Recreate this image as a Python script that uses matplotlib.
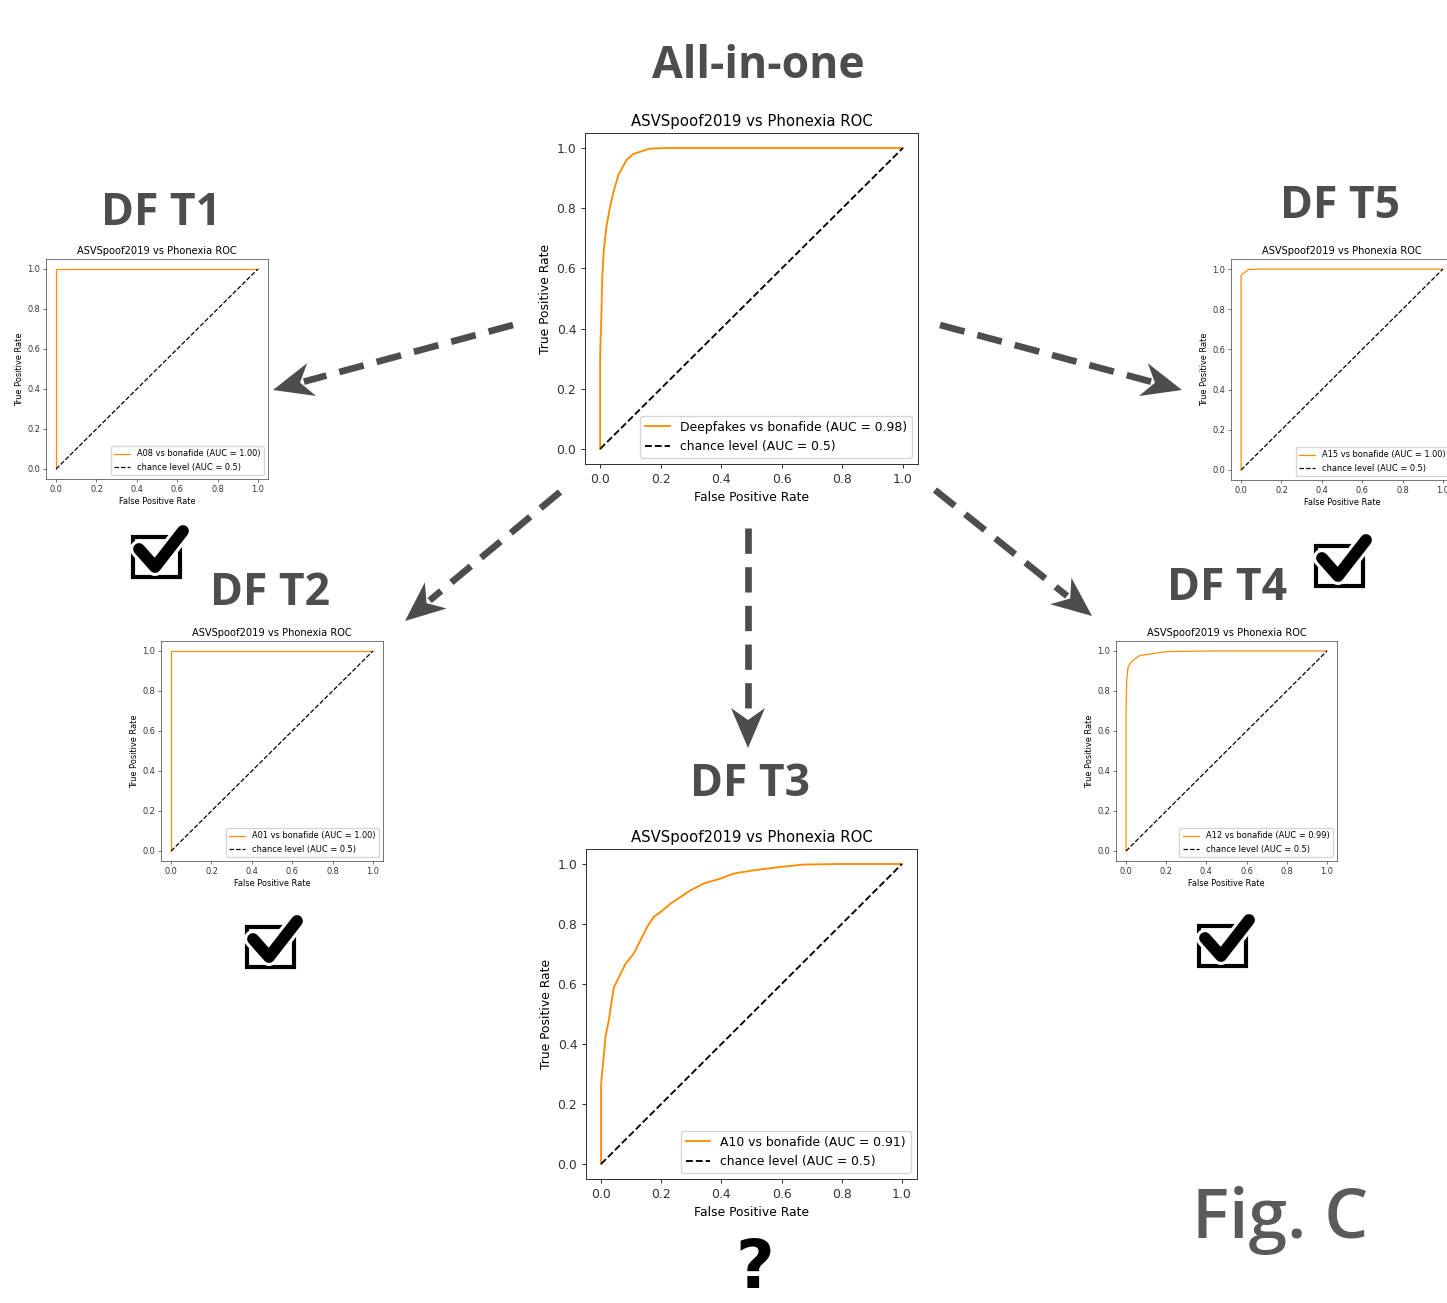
import matplotlib
matplotlib.use("Agg")
import matplotlib.pyplot as plt
from matplotlib.lines import Line2D
from matplotlib.patches import Polygon, Rectangle
import matplotlib.patheffects as pe
import numpy as np

W, H = 1447, 1303

# ROC curves
allin_fpr = [0, 0, 0.004, 0.007, 0.012, 0.021, 0.032, 0.043, 0.06, 0.087, 0.109, 0.164, 0.22, 1.0]
allin_tpr = [0, 0.31, 0.44, 0.57, 0.66, 0.74, 0.80, 0.85, 0.91, 0.96, 0.98, 0.998, 1.0, 1.0]

t1_fpr = [0, 0, 1.0]
t1_tpr = [0, 1.0, 1.0]

t2_fpr = [0, 0, 1.0]
t2_tpr = [0, 1.0, 1.0]

t3_fpr = [0, 0, 0.002, 0.008, 0.015, 0.026, 0.034, 0.043, 0.06, 0.082, 0.109, 0.131, 0.153, 0.175,
          0.198, 0.231, 0.264, 0.297, 0.341, 0.396, 0.44, 0.507, 0.595, 0.672, 0.783, 1.0]
t3_tpr = [0, 0.258, 0.29, 0.347, 0.425, 0.48, 0.535, 0.59, 0.624, 0.668, 0.702, 0.746, 0.79, 0.824,
          0.84, 0.868, 0.89, 0.912, 0.935, 0.951, 0.968, 0.979, 0.99, 0.998, 1.0, 1.0]

t4_fpr = [0, 0, 0.003, 0.01, 0.022, 0.043, 0.068, 0.118, 0.2, 0.4, 1.0]
t4_tpr = [0, 0.72, 0.85, 0.92, 0.94, 0.96, 0.977, 0.985, 0.997, 1.0, 1.0]

t5_fpr = [0, 0, 0.013, 0.038, 0.11, 1.0]
t5_tpr = [0, 0.968, 0.98, 0.998, 1.0, 1.0]

labels = {
    "all": "Deepfakes vs bonafide (AUC = 0.98)",
    "t1": "A08 vs bonafide (AUC = 1.00)",
    "t2": "A01 vs bonafide (AUC = 1.00)",
    "t3": "A10 vs bonafide (AUC = 0.91)",
    "t4": "A12 vs bonafide (AUC = 0.99)",
    "t5": "A15 vs bonafide (AUC = 1.00)",
}

headers = ["All-in-one", "DF T1", "DF T2", "DF T3", "DF T4", "DF T5"]

GREY = "#4d4d4d"
HFONT = "Open Sans"

fig = plt.figure(figsize=(W / 100, H / 100), dpi=100)


def fx(x):
    return x / W


def fy(y):
    return 1 - y / H


def rect(l, t, r, b):
    return [fx(l), fy(b), (r - l) / W, (b - t) / H]


def roc(box, fpr, tpr, label, s):
    ax = fig.add_axes(rect(*box))
    ax.plot(fpr, tpr, color="darkorange", lw=1.5 * s, label=label)
    ax.plot([0, 1], [0, 1], "k--", lw=1.5 * s, label="chance level (AUC = 0.5)")
    ax.set_title("ASVSpoof2019 vs Phonexia ROC", fontsize=12 * s, pad=6 * s)
    ax.set_xlabel("False Positive Rate", fontsize=10 * s, labelpad=4 * s)
    ax.set_ylabel("True Positive Rate", fontsize=10 * s, labelpad=4 * s)
    ax.set_xticks([0, 0.2, 0.4, 0.6, 0.8, 1.0])
    ax.set_yticks([0, 0.2, 0.4, 0.6, 0.8, 1.0])
    ax.tick_params(labelsize=10 * s, length=3.5 * s, width=0.8 * s, pad=3.5 * s,
                   colors="#333333", labelcolor="#333333")
    for sp in ax.spines.values():
        sp.set_linewidth(0.8 * s)
        sp.set_color("#333333")
    ax.legend(loc="lower right", fontsize=10 * s, borderpad=0.4, handlelength=2.0)
    return ax


big = 0.89
small = 0.593
roc((585, 133, 918, 464), allin_fpr, allin_tpr, labels["all"], big)
roc((586, 849, 917, 1179), t3_fpr, t3_tpr, labels["t3"], big)
roc((46, 259, 268, 479), t1_fpr, t1_tpr, labels["t1"], small)
roc((1231, 259, 1453, 480), t5_fpr, t5_tpr, labels["t5"], small)
roc((161, 641, 383, 861), t2_fpr, t2_tpr, labels["t2"], small)
roc((1116, 641, 1337, 861), t4_fpr, t4_tpr, labels["t4"], small)

# big grey headings
head_pos = [(758, 78), (161, 225), (270, 605), (750, 796), (1227, 600), (1340, 218)]
for txt, (x, y) in zip(headers, head_pos):
    fig.text(fx(x), fy(y), txt, ha="center", va="baseline", fontsize=32,
             fontweight="bold", color=GREY, family=HFONT)

fig.text(fx(1280), fy(1238), "Fig. C", ha="center", va="baseline", fontsize=50,
         fontweight="semibold", color="#5a5a5a", family=HFONT)

fig.text(fx(755), fy(1302), "?", ha="center", va="bottom", fontsize=48,
         fontweight="bold", color="black", family="DejaVu Sans")


# dashed arrows
def arrow(x0, y0, x1, y1, head_len=40, head_w=34):
    d = np.array([x1 - x0, y1 - y0], float)
    u = d / np.hypot(*d)
    n = np.array([-u[1], u[0]])
    tip = np.array([x1, y1], float)
    base = tip - u * head_len
    notch = tip - u * head_len * 0.7
    fig.add_artist(Line2D([fx(x0), fx(base[0] + u[0] * 8)], [fy(y0), fy(base[1] + u[1] * 8)],
                          transform=fig.transFigure, color=GREY, lw=4.8,
                          ls=(0, (3.8, 2.0)), solid_capstyle="butt", dash_capstyle="butt"))
    pts = [tip, base + n * head_w / 2, notch, base - n * head_w / 2]
    fig.add_artist(Polygon([(fx(p[0]), fy(p[1])) for p in pts], closed=True,
                           transform=fig.transFigure, color=GREY, lw=0))


arrow(513, 325, 273, 390)
arrow(940, 325, 1182, 390)
arrow(560, 492, 405, 621)
arrow(748, 528, 748, 748)
arrow(935, 490, 1092, 616)


# check boxes
def checkbox(bx, by, w=47, h=40):
    fig.add_artist(Rectangle((fx(bx), fy(by + h)), w / W, h / H, transform=fig.transFigure,
                             fill=False, ec="black", lw=3))
    xs = [bx + 6, bx + 22, bx + 50]
    ys = [by + 12, by + 30, by - 6]
    ln = Line2D([fx(v) for v in xs], [fy(v) for v in ys], transform=fig.transFigure,
                color="black", lw=8.5, solid_capstyle="round", solid_joinstyle="round")
    ln.set_path_effects([pe.Stroke(linewidth=13, foreground="white"), pe.Normal()])
    fig.add_artist(ln)


checkbox(133, 537)
checkbox(247, 927)
checkbox(1199, 926)
checkbox(1316, 546)

fig.savefig("out.png", dpi=100)
